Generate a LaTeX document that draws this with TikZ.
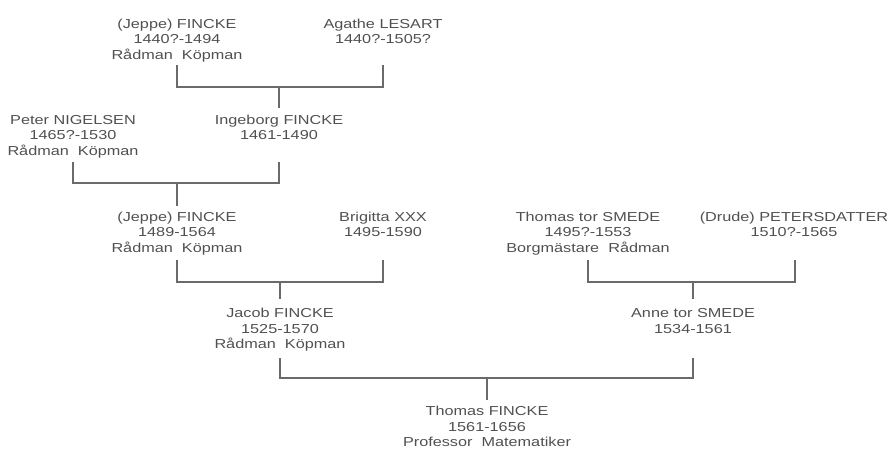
\documentclass[tikz,border=0pt]{standalone}
\usepackage{fontspec}
\newfontfamily\lab[FakeStretch=1.25]{Liberation Sans}
\definecolor{txt}{HTML}{505050}
\definecolor{ln}{HTML}{6A6A6A}
\begin{document}
\begin{tikzpicture}[x=1pt,y=-1pt,
  person/.style={align=center, inner sep=0pt, anchor=base, text=txt,
    font=\lab\fontsize{13}{15.5}\selectfont},
  link/.style={draw=ln, line width=1.2pt}]
\useasboundingbox (0,0) rectangle (892,449);
% generation 1 (anchor = baseline of last line)
\node[person] (jf1) at (177,59.5) {(Jeppe) FINCKE\\1440?-1494\\Rådman\ \ Köpman};
\node[person] (al) at (383,44) {Agathe LESART\\1440?-1505?};
% generation 2
\node[person] (pn) at (73,155.5) {Peter NIGELSEN\\1465?-1530\\Rådman\ \ Köpman};
\node[person] (if) at (279,140) {Ingeborg FINCKE\\1461-1490};
% generation 3
\node[person] (jf2) at (177,252.5) {(Jeppe) FINCKE\\1489-1564\\Rådman\ \ Köpman};
\node[person] (bx) at (383,237) {Brigitta XXX\\1495-1590};
\node[person] (ts) at (588,252.5) {Thomas tor SMEDE\\1495?-1553\\Borgmästare\ \ Rådman};
\node[person] (dp) at (794,237) {(Drude) PETERSDATTER\\1510?-1565};
% generation 4
\node[person] (jc) at (280,348.5) {Jacob FINCKE\\1525-1570\\Rådman\ \ Köpman};
\node[person] (as) at (693,333) {Anne tor SMEDE\\1534-1561};
% generation 5
\node[person] (tf) at (487,446.5) {Thomas FINCKE\\1561-1656\\Professor\ \ Matematiker};
% bracket joints
\coordinate (t1) at (0,65);   \coordinate (h1) at (0,87);   \coordinate (e1) at (0,108);
\coordinate (t2) at (0,162);  \coordinate (h2) at (0,183);  \coordinate (e2) at (0,206);
\coordinate (t3) at (0,260);  \coordinate (h3) at (0,282);  \coordinate (e3) at (0,299);
\coordinate (t4) at (0,358);  \coordinate (h4) at (0,378);  \coordinate (e4) at (0,400);
% connectors
\draw[link] (jf1 |- t1) -- (jf1 |- h1) -- (al |- h1) -- (al |- t1);
\draw[link] (if |- h1) -- (if |- e1);
\draw[link] (pn |- t2) -- (pn |- h2) -- (if |- h2) -- (if |- t2);
\draw[link] (jf2 |- h2) -- (jf2 |- e2);
\draw[link] (jf2 |- t3) -- (jf2 |- h3) -- (bx |- h3) -- (bx |- t3);
\draw[link] (jc |- h3) -- (jc |- e3);
\draw[link] (ts |- t3) -- (ts |- h3) -- ([xshift=1pt]dp |- h3) -- ([xshift=1pt]dp |- t3);
\draw[link] (as |- h3) -- (as |- e3);
\draw[link] (jc |- t4) -- (jc |- h4) -- (as |- h4) -- (as |- t4);
\draw[link] (tf |- h4) -- (tf |- e4);
\end{tikzpicture}
\end{document}
